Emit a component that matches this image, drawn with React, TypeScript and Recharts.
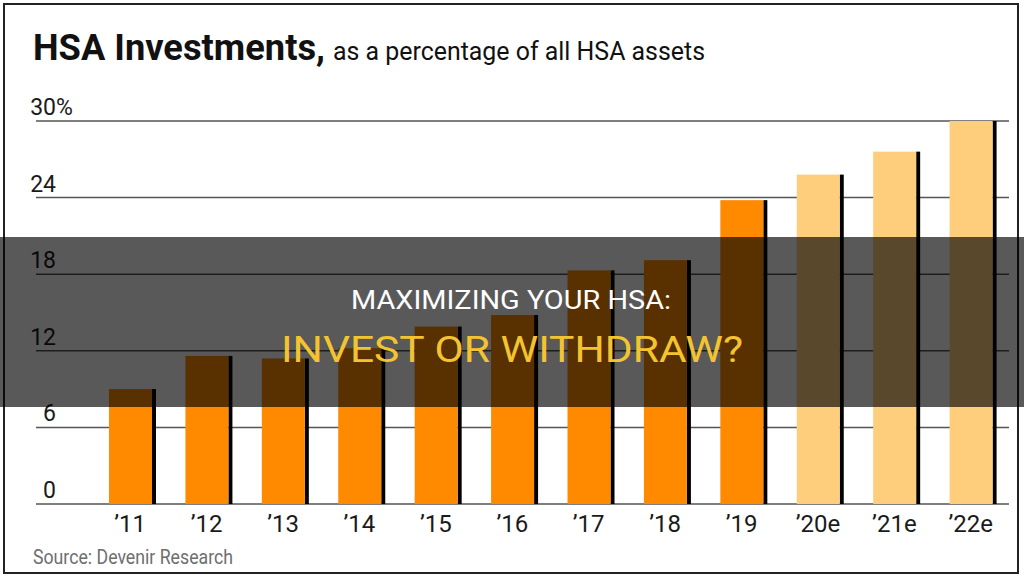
import { Bar, BarChart, CartesianGrid, Cell, XAxis, YAxis } from "recharts";

const years = ["’11", "’12", "’13", "’14", "’15", "’16", "’17", "’18", "’19", "’20e", "’21e", "’22e"];
const shares = [9.0, 11.6, 11.4, 12.2, 13.9, 14.8, 18.3, 19.1, 23.8, 25.8, 27.6, 30.0];
const estimated = [false, false, false, false, false, false, false, false, false, true, true, true];
const yTicks = [0, 6, 12, 18, 24, 30];

const ACTUAL = "#FF8A00";
const ESTIMATE = "#FFCE7D";
const FONT = "Roboto, 'Noto Sans', sans-serif";

const data = years.map((year, i) => ({ year, share: shares[i], est: estimated[i] }));

function ShadowBar(props: any) {
  const { x, y, width, height, fill } = props;
  if (!height || height <= 0) return <g />;
  return (
    <g>
      <rect x={x + width} y={y} width={4} height={height} fill="#000" />
      <rect x={x} y={y} width={width} height={height} fill={fill} />
    </g>
  );
}

function YTick(props: any) {
  const { y, payload } = props;
  const right = 56;
  return (
    <g>
      <text x={right} y={y - 6} textAnchor="end" fontSize={23} fill="#1a1a1a" fontFamily={FONT}>
        {payload.value}
      </text>
      {payload.value === 30 && (
        <text x={right} y={y - 6} fontSize={23} fill="#1a1a1a" fontFamily={FONT}>
          %
        </text>
      )}
    </g>
  );
}

function XTick(props: any) {
  const { x, y, payload } = props;
  return (
    <text x={x} y={y + 28} textAnchor="middle" fontSize={24} fill="#1a1a1a" fontFamily={FONT}>
      {payload.value}
    </text>
  );
}

export default function App() {
  return (
    <div style={{ position: "absolute", left: 0, top: 0, width: 1024, height: 578, background: "#fff" }}>
      <BarChart
        width={1024}
        height={578}
        data={data}
        margin={{ top: 121, right: 15, bottom: 34, left: 0 }}
      >
        <CartesianGrid vertical={false} stroke="#555" strokeWidth={1.5} />
        <XAxis
          dataKey="year"
          axisLine={false}
          tickLine={false}
          tickSize={0}
          tickMargin={0}
          height={40}
          padding={{ left: 56, right: 0 }}
          tick={<XTick />}
          interval={0}
        />
        <YAxis
          domain={[0, 30]}
          ticks={yTicks}
          width={36}
          axisLine={false}
          tickLine={false}
          tick={<YTick />}
        />
        <Bar dataKey="share" barSize={43} shape={<ShadowBar />} isAnimationActive={false}>
          {data.map((d) => (
            <Cell key={d.year} fill={d.est ? ESTIMATE : ACTUAL} />
          ))}
        </Bar>
      </BarChart>
      <svg
        width={1024}
        height={578}
        style={{ position: "absolute", left: 0, top: 0, pointerEvents: "none" }}
      >
        <rect x={4} y={4} width={1014} height={569} fill="none" stroke="#222" strokeWidth={2} />
        <text
          x={33}
          y={60}
          fontSize={36}
          fontWeight={700}
          fill="#111"
          fontFamily={FONT}
          textLength={292}
          lengthAdjust="spacingAndGlyphs"
        >
          HSA Investments,
        </text>
        <text
          x={333}
          y={60}
          fontSize={25}
          fill="#111"
          fontFamily={FONT}
          textLength={372}
          lengthAdjust="spacingAndGlyphs"
        >
          as a percentage of all HSA assets
        </text>
        <text
          x={33}
          y={564}
          fontSize={20}
          fill="#6e6e6e"
          fontFamily={FONT}
          textLength={200}
          lengthAdjust="spacingAndGlyphs"
        >
          Source: Devenir Research
        </text>
        <rect x={0} y={237} width={1024} height={170} fill="rgba(0,0,0,0.65)" />
        <text
          x={351}
          y={309}
          fontSize={25}
          fill="#fff"
          fontFamily={FONT}
          textLength={320}
          lengthAdjust="spacingAndGlyphs"
        >
          MAXIMIZING YOUR HSA:
        </text>
        <text
          x={281}
          y={362}
          fontSize={37}
          fill="#F4C430"
          fontFamily={FONT}
          textLength={462}
          lengthAdjust="spacingAndGlyphs"
        >
          INVEST OR WITHDRAW?
        </text>
      </svg>
    </div>
  );
}
